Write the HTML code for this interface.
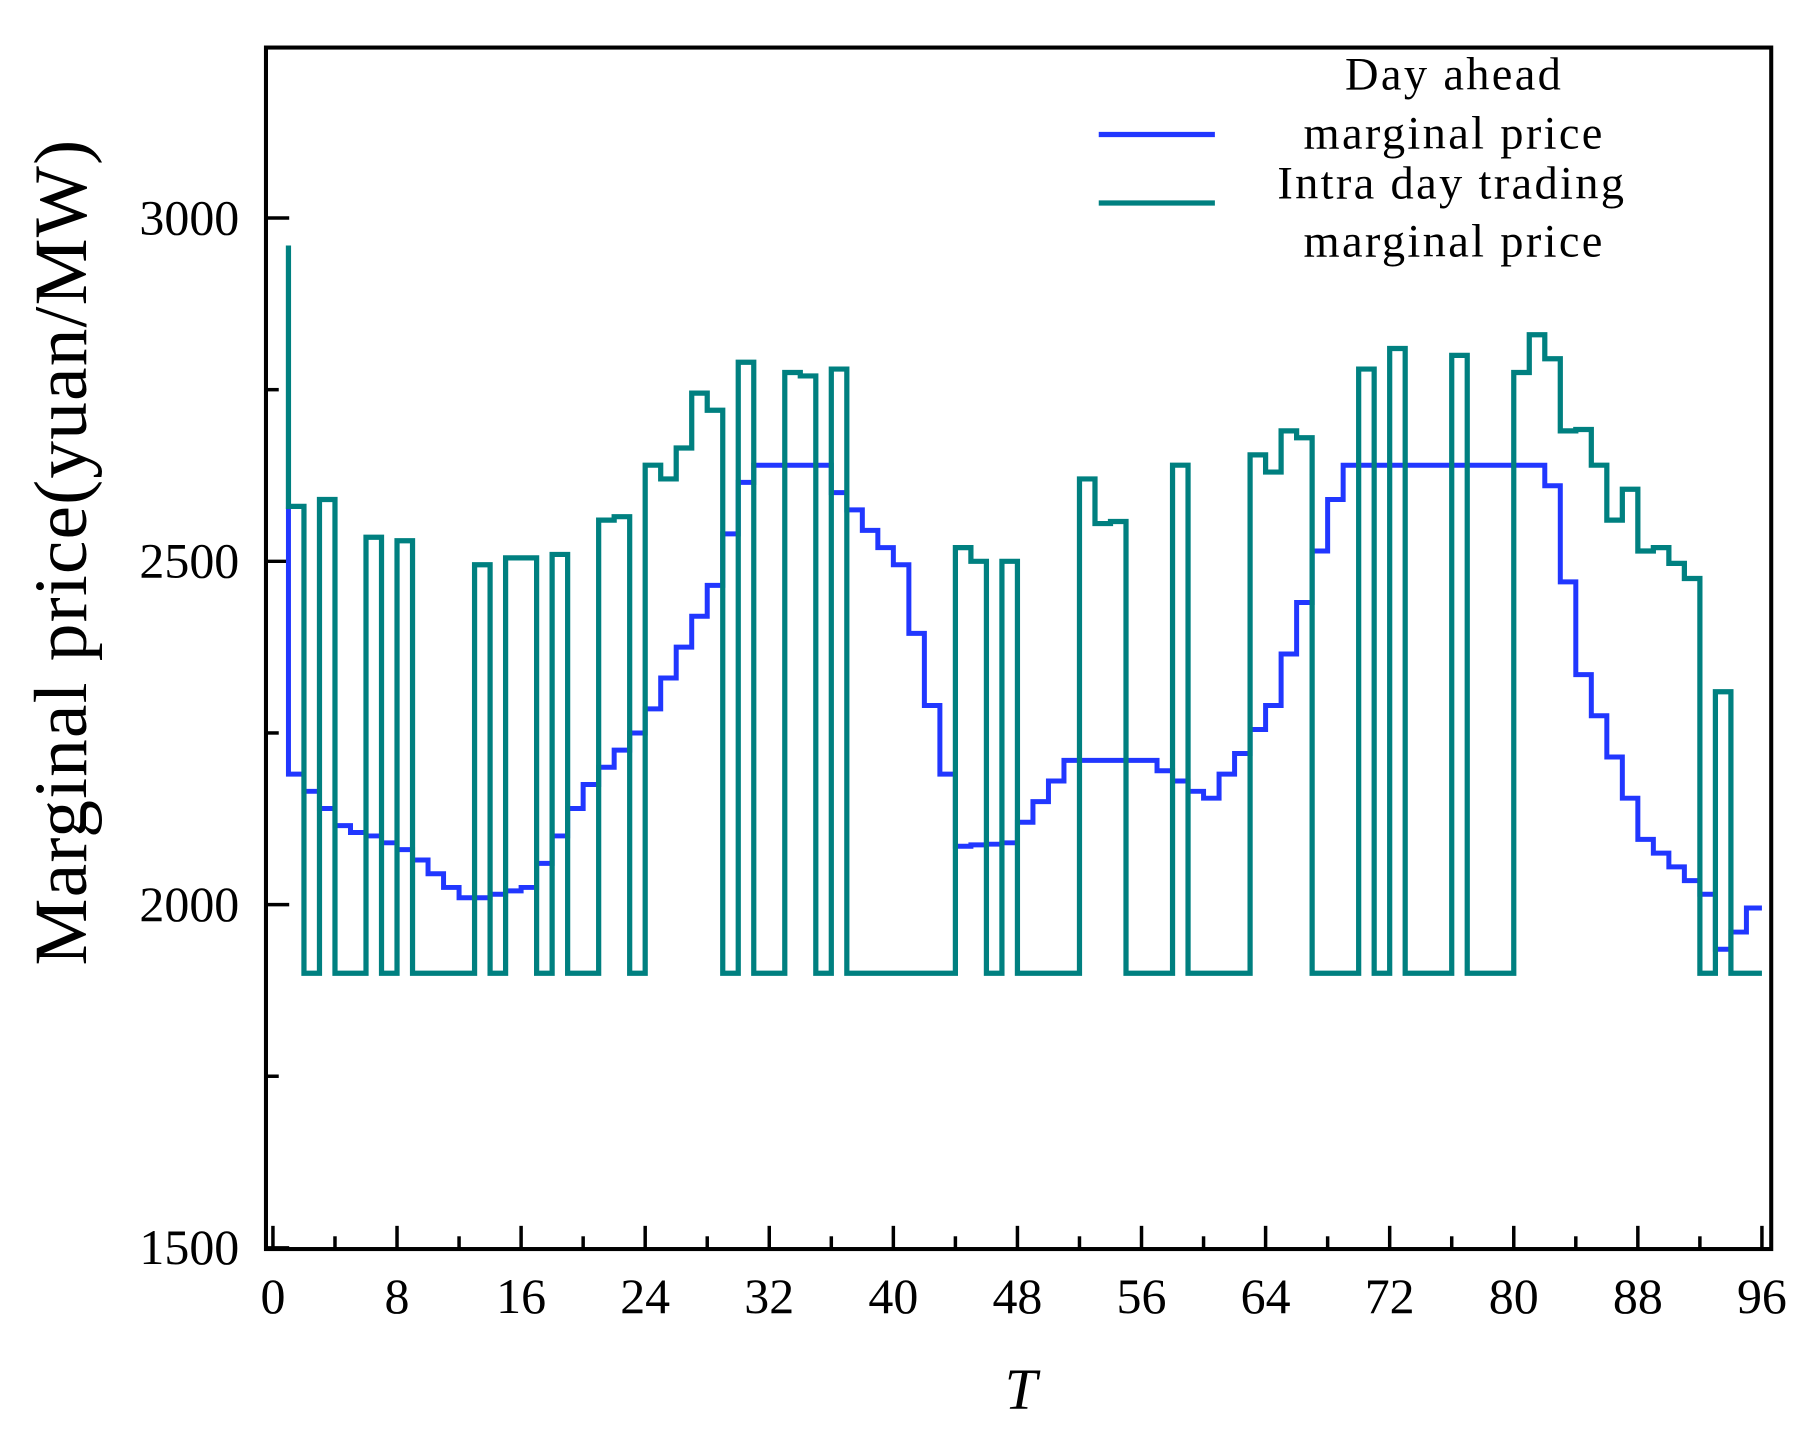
<!DOCTYPE html>
<html><head><meta charset="utf-8"><style>
html,body{margin:0;padding:0;background:#fff;}
svg{display:block;}
text{font-family:"Liberation Serif",serif;fill:#000;}
</style></head><body>
<svg id="chart" width="1820" height="1452" viewBox="0 0 1567 1252" preserveAspectRatio="none" xmlns="http://www.w3.org/2000/svg">
<rect x="229" y="41" width="1296" height="1036" fill="none" stroke="#000" stroke-width="3.5"/>
<g id="axes"></g>
<g id="series"></g>
<text transform="translate(74,476) rotate(-90)" text-anchor="middle" font-size="65" letter-spacing="1">Marginal price(yuan/MW)</text>
<text x="879" y="1215" text-anchor="middle" font-size="50" font-style="italic">T</text>
<g>
<line x1="946" y1="116" x2="1046" y2="116" stroke="#2137ff" stroke-width="4.5"/>
<text x="1252" y="77" text-anchor="middle" font-size="40" letter-spacing="2">Day ahead</text>
<text x="1252" y="128" text-anchor="middle" font-size="40" letter-spacing="2">marginal price</text>
<line x1="946" y1="175" x2="1046" y2="175" stroke="#008080" stroke-width="4.5"/>
<text x="1250" y="171" text-anchor="middle" font-size="40" letter-spacing="2">Intra day trading</text>
<text x="1252" y="221" text-anchor="middle" font-size="40" letter-spacing="2">marginal price</text>
</g>
</svg>
<script>
const xTicks = [0,8,16,24,32,40,48,56,64,72,80,88,96];
const yTicks = [1500,2000,2500,3000];
const dayAheadStart = 2580;
const dayAhead = [2190,2165,2140,2115,2105,2100,2090,2080,2065,2045,2025,2010,2010,2015,2020,2025,2060,2100,2140,2175,2200,2225,2250,2285,2330,2375,2420,2465,2540,2615,2640,2640,2640,2640,2640,2600,2575,2545,2520,2495,2395,2290,2190,2085,2087,2088,2090,2120,2150,2180,2210,2210,2210,2210,2210,2210,2195,2180,2165,2155,2190,2220,2255,2290,2365,2440,2515,2590,2640,2640,2640,2640,2640,2640,2640,2640,2640,2640,2640,2640,2640,2610,2470,2335,2275,2215,2155,2095,2075,2055,2035,2015,1935,1960,1995];
const intraDayStart = 2960;
const intraDay = [2580,1900,2590,1900,1900,2535,1900,2530,1900,1900,1900,1900,2495,1900,2505,2505,1900,2510,1900,1900,2560,2565,1900,2640,2620,2665,2745,2720,1900,2790,1900,1900,2775,2770,1900,2780,1900,1900,1900,1900,1900,1900,1900,2520,2500,1900,2500,1900,1900,1900,1900,2620,2555,2558,1900,1900,1900,2640,1900,1900,1900,1900,2655,2630,2690,2680,1900,1900,1900,2780,1900,2810,1900,1900,1900,2800,1900,1900,1900,2775,2830,2795,2690,2692,2640,2560,2605,2515,2520,2497,2475,1900,2310,1900,1900];

const NS='http://www.w3.org/2000/svg';
const X = t => 235 + t*(1517-235)/96;
const Y = v => 780 - (v-2000)*0.592;
const axes=document.getElementById('axes');
function mk(tag,attrs,parent){const e=document.createElementNS(NS,tag);for(const k in attrs)e.setAttribute(k,attrs[k]);parent.appendChild(e);return e;}
for(let t=0;t<=96;t+=4){
  const major = t%8===0;
  const l=mk('line',{x1:X(t),x2:X(t),y1:1077,y2:1077-(major?20:11),stroke:'#000','stroke-width':3},axes);
  
  
}
xTicks.forEach(t=>{
  const tx=mk('text',{x:X(t),y:1132,'text-anchor':'middle','font-size':43},axes);
  tx.textContent=t;
  
  
});
for(let v=1500;v<=3000;v+=250){
  const major=v%500===0;
  const l=mk('line',{x1:229,x2:229+(major?20:11),y1:Y(v),y2:Y(v),stroke:'#000','stroke-width':3},axes);
  
  
}
yTicks.forEach(v=>{
  const tx=mk('text',{x:206,y:Y(v)+14,'text-anchor':'end','font-size':43},axes);
  tx.textContent=v;
  
  
});
function stepPath(start,vals){
  let d='M'+X(1)+','+Y(start);
  vals.forEach((v,i)=>{d+=' V'+Y(v)+' H'+X(i+2);});
  return d;
}
const g=document.getElementById('series');
const p2=mk('path',{d:stepPath(dayAheadStart,dayAhead),fill:'none',stroke:'#2137ff','stroke-width':4.3},g);


const p1=mk('path',{d:stepPath(intraDayStart,intraDay),fill:'none',stroke:'#008080','stroke-width':4.5},g);


</script>
</body></html>
